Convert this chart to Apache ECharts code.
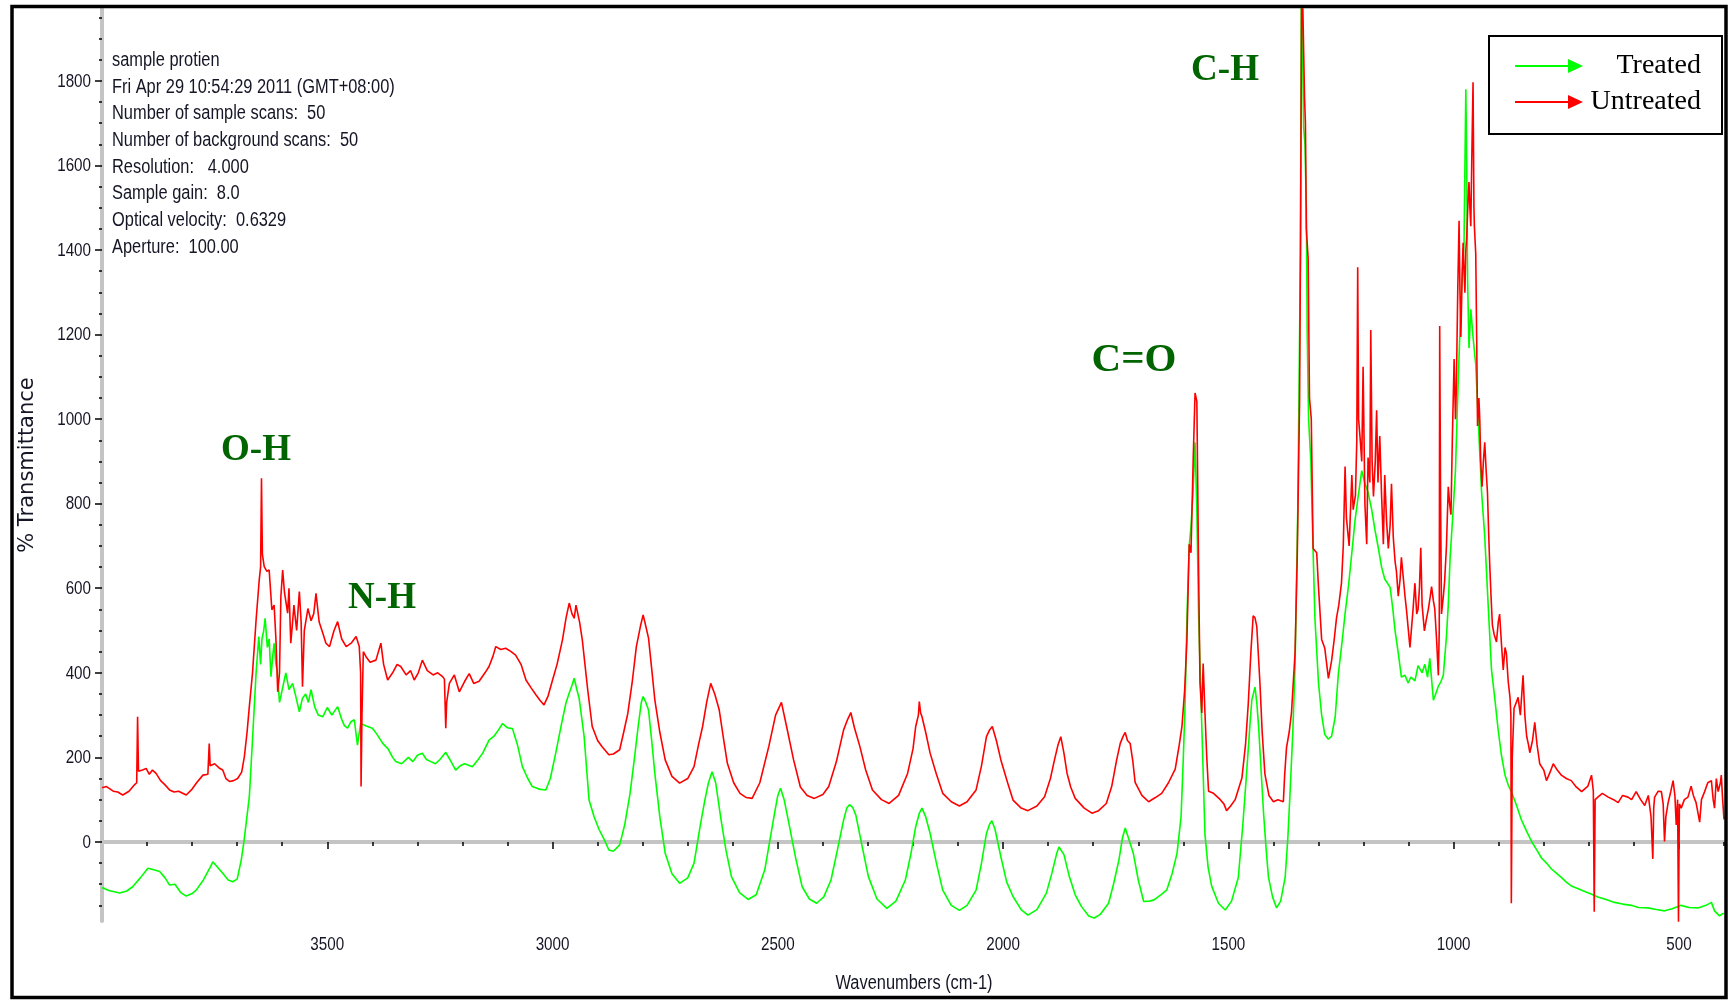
<!DOCTYPE html>
<html>
<head>
<meta charset="utf-8">
<title>FTIR spectrum - treated vs untreated</title>
<script src="https://cdn.jsdelivr.net/npm/echarts@6.0.0/dist/echarts.min.js"></script>
<style>
  html, body { margin: 0; padding: 0; background: #fff; }
  #chart { width: 1735px; height: 1001px; }
</style>
</head>
<body>
<div id="chart"></div>
<script>
// spectrum data, [wavenumber, %T]
var treated = [
  [4000,-108],[3985,-115],[3961,-121],[3945,-116],[3932,-106],[3915,-85],[3898,-62],[3885,-66],[3872,-70],[3860,-85],
  [3850,-102],[3838,-100],[3825,-120],[3813,-128],[3800,-122],[3791,-114],[3775,-90],[3760,-60],[3754,-47],[3745,-58],
  [3732,-74],[3720,-90],[3710,-94],[3700,-88],[3691,-43],[3685,0],[3680,45],[3673,107],[3666,241],[3658,400],
  [3652,486],[3648,420],[3645,480],[3641,500],[3638,529],[3633,460],[3629,480],[3625,391],[3621,440],[3618,470],
  [3614,420],[3611,405],[3606,330],[3603,328],[3598,370],[3592,400],[3585,360],[3577,375],[3570,345],[3562,308],
  [3555,340],[3548,350],[3542,330],[3536,360],[3528,320],[3520,300],[3510,296],[3500,318],[3490,300],[3477,320],
  [3468,290],[3462,275],[3455,269],[3447,285],[3440,289],[3433,229],[3426,280],[3415,275],[3400,269],[3390,255],
  [3377,233],[3365,220],[3355,200],[3348,190],[3335,185],[3320,200],[3310,190],[3300,205],[3289,210],[3280,195],
  [3270,190],[3260,185],[3250,195],[3237,212],[3228,195],[3215,170],[3205,180],[3195,185],[3178,178],[3165,195],
  [3155,210],[3141,241],[3130,250],[3120,265],[3111,280],[3100,270],[3089,268],[3078,230],[3067,178],[3055,150],
  [3045,131],[3030,125],[3015,123],[3005,150],[2993,210],[2980,280],[2970,330],[2963,352],[2957,370],[2952,387],
  [2946,360],[2941,340],[2930,250],[2919,99],[2908,60],[2897,30],[2885,5],[2875,-19],[2865,-22],[2851,-7],
  [2840,40],[2828,115],[2818,200],[2810,273],[2803,330],[2799,344],[2793,330],[2787,312],[2780,240],[2773,162],
  [2762,60],[2750,-27],[2735,-75],[2718,-98],[2700,-85],[2686,-50],[2672,40],[2662,99],[2654,140],[2646,166],
  [2638,140],[2626,52],[2615,-20],[2603,-82],[2585,-120],[2566,-136],[2548,-125],[2529,-66],[2515,20],[2506,76],
  [2500,110],[2494,127],[2486,100],[2474,36],[2460,-40],[2446,-106],[2430,-135],[2414,-145],[2398,-130],[2382,-90],
  [2368,-20],[2354,52],[2347,80],[2341,88],[2334,82],[2327,64],[2313,-10],[2299,-82],[2280,-135],[2258,-157],
  [2238,-140],[2217,-90],[2205,-30],[2194,36],[2186,68],[2180,80],[2172,60],[2162,20],[2148,-50],[2134,-114],
  [2115,-150],[2097,-162],[2080,-150],[2060,-114],[2048,-50],[2037,20],[2030,42],[2025,50],[2018,30],[2005,-35],
  [1992,-95],[1978,-129],[1960,-160],[1945,-173],[1925,-160],[1904,-121],[1892,-75],[1881,-27],[1876,-12],[1872,-9],
  [1865,-30],[1853,-82],[1840,-125],[1826,-153],[1810,-175],[1798,-180],[1785,-172],[1766,-145],[1755,-100],[1743,-43],
  [1735,10],[1729,33],[1722,10],[1711,-27],[1700,-90],[1688,-141],[1675,-140],[1665,-137],[1650,-125],[1637,-114],
  [1625,-75],[1614,-27],[1605,60],[1600,200],[1596,330],[1592,530],[1587,700],[1583,745],[1578,837],[1574,945],
  [1570,786],[1566,530],[1562,380],[1559,274],[1552,18],[1545,-60],[1537,-105],[1522,-145],[1507,-161],[1493,-140],
  [1478,-84],[1468,40],[1459,172],[1452,280],[1448,336],[1441,366],[1437,330],[1433,274],[1428,180],[1422,69],
  [1416,-20],[1411,-84],[1402,-130],[1393,-156],[1384,-140],[1374,-84],[1368,10],[1363,120],[1357,260],[1352,417],
  [1346,786],[1342,1195],[1340,1400],[1338,2100],[1335,2100],[1333,1690],[1330,1650],[1327,1500],[1325,1200],[1322,1000],
  [1317,900],[1311,650],[1308,530],[1300,376],[1293,300],[1286,254],[1278,243],[1271,250],[1263,295],[1256,397],
  [1248,470],[1241,540],[1233,610],[1226,684],[1219,760],[1212,817],[1204,878],[1197,848],[1190,827],[1182,786],
  [1175,740],[1167,694],[1160,650],[1153,622],[1141,602],[1135,550],[1130,499],[1123,447],[1116,390],[1108,394],
  [1101,376],[1095,390],[1086,381],[1079,417],[1070,400],[1064,420],[1058,390],[1053,434],[1045,335],[1040,350],
  [1034,368],[1028,380],[1023,394],[1016,486],[1012,560],[1008,670],[1001,788],[996,879],[990,1089],[983,1299],
  [977,1417],[973,1780],[971,1600],[969,1325],[966,1168],[962,1260],[957,1194],[951,1129],[946,1010],[938,827],
  [931,722],[923,552],[916,407],[909,342],[901,263],[894,205],[886,158],[879,135],[872,119],[860,85],
  [850,53],[838,25],[827,1],[815,-20],[805,-38],[794,-50],[783,-64],[772,-74],[761,-84],[750,-95],
  [739,-104],[725,-110],[709,-117],[695,-123],[680,-130],[660,-137],[643,-143],[625,-147],[606,-150],[590,-155],
  [569,-156],[550,-160],[532,-163],[515,-158],[495,-150],[478,-155],[458,-156],[440,-150],[428,-143],[421,-163],
  [410,-175],[402,-169],[400,-170]
];

var untreated = [
  [4000,128],[3990,131],[3975,120],[3965,118],[3954,111],[3940,120],[3928,135],[3923,140],[3921,296],[3919,167],
  [3910,170],[3902,174],[3895,160],[3888,170],[3880,162],[3870,145],[3860,135],[3850,123],[3840,118],[3830,120],
  [3813,111],[3800,125],[3790,140],[3776,158],[3765,160],[3762,233],[3760,180],[3750,185],[3740,175],[3732,170],
  [3725,150],[3717,143],[3708,145],[3699,150],[3690,165],[3684,202],[3678,260],[3673,320],[3666,399],[3658,525],
  [3651,620],[3648,650],[3646,860],[3644,680],[3640,651],[3634,640],[3629,643],[3623,549],[3618,560],[3614,480],
  [3610,355],[3606,400],[3603,580],[3599,643],[3595,590],[3588,541],[3585,600],[3581,470],[3577,520],[3574,560],
  [3568,500],[3562,592],[3558,520],[3555,367],[3551,500],[3543,552],[3536,523],[3530,540],[3525,588],[3518,520],
  [3510,494],[3503,470],[3495,462],[3485,500],[3477,521],[3468,480],[3458,462],[3447,470],[3436,486],[3429,462],
  [3426,400],[3425,131],[3423,300],[3420,450],[3414,438],[3405,425],[3392,430],[3381,470],[3375,420],[3366,383],
  [3355,400],[3345,420],[3337,415],[3325,395],[3315,405],[3307,383],[3298,400],[3289,430],[3278,405],[3265,395],
  [3255,400],[3244,391],[3240,385],[3237,269],[3235,330],[3229,375],[3218,395],[3207,355],[3195,380],[3185,398],
  [3175,375],[3163,380],[3150,400],[3141,415],[3132,440],[3126,462],[3115,455],[3104,458],[3092,450],[3082,442],
  [3070,420],[3059,383],[3048,365],[3037,348],[3028,335],[3019,324],[3010,345],[3000,383],[2990,420],[2978,478],
  [2970,530],[2963,565],[2957,540],[2952,529],[2948,560],[2945,557],[2940,520],[2934,478],[2922,360],[2912,273],
  [2900,240],[2890,225],[2875,206],[2865,208],[2851,218],[2842,260],[2833,304],[2823,380],[2814,462],[2805,510],
  [2799,537],[2793,510],[2787,482],[2780,410],[2773,336],[2762,260],[2750,194],[2735,155],[2718,139],[2700,150],
  [2686,178],[2676,230],[2667,273],[2658,330],[2649,375],[2640,350],[2630,312],[2620,240],[2612,186],[2598,140],
  [2584,115],[2570,105],[2557,103],[2540,140],[2520,226],[2505,300],[2492,330],[2480,270],[2465,194],[2450,130],
  [2435,110],[2419,103],[2400,112],[2387,131],[2370,190],[2354,265],[2345,290],[2338,306],[2330,270],[2318,226],
  [2305,170],[2290,123],[2270,100],[2253,91],[2232,110],[2212,162],[2200,220],[2194,273],[2188,300],[2186,332],
  [2183,305],[2180,296],[2172,260],[2162,210],[2148,160],[2134,115],[2115,95],[2097,85],[2080,95],[2060,123],
  [2048,180],[2037,249],[2030,265],[2024,273],[2015,240],[2005,194],[1990,140],[1978,99],[1960,80],[1945,74],
  [1925,85],[1908,107],[1895,150],[1886,194],[1878,230],[1872,249],[1865,210],[1858,162],[1850,130],[1840,103],
  [1820,80],[1803,68],[1788,74],[1771,91],[1759,131],[1748,194],[1740,233],[1734,249],[1729,259],[1724,240],
  [1718,233],[1712,190],[1707,141],[1692,110],[1677,95],[1662,105],[1648,115],[1633,140],[1618,172],[1609,230],
  [1603,274],[1597,360],[1592,479],[1587,704],[1583,684],[1578,909],[1574,1062],[1570,1042],[1566,632],[1563,376],
  [1559,305],[1556,422],[1554,420],[1552,305],[1548,200],[1544,120],[1533,115],[1518,100],[1510,90],[1504,74],
  [1495,85],[1485,100],[1470,151],[1462,230],[1456,325],[1450,450],[1445,535],[1441,530],[1437,510],[1430,376],
  [1425,260],[1419,161],[1410,110],[1400,95],[1390,100],[1378,95],[1375,160],[1371,223],[1365,260],[1360,305],
  [1352,448],[1347,684],[1342,1042],[1340,1400],[1337,2100],[1333,2100],[1331,1760],[1329,1700],[1327,1450],[1323,1380],
  [1320,1050],[1316,1000],[1312,694],[1304,684],[1300,602],[1293,479],[1286,458],[1278,387],[1271,428],[1265,480],
  [1260,530],[1255,560],[1249,612],[1245,700],[1241,888],[1238,766],[1232,700],[1226,868],[1223,786],[1218,820],
  [1215,950],[1213,1359],[1211,1000],[1208,960],[1204,900],[1201,1124],[1197,800],[1193,704],[1190,909],[1186,850],
  [1184,1211],[1181,900],[1178,817],[1174,900],[1171,1021],[1168,850],[1164,960],[1160,820],[1156,704],[1153,868],
  [1149,760],[1145,694],[1141,750],[1138,847],[1134,720],[1130,663],[1127,640],[1123,581],[1119,620],[1116,673],
  [1112,670],[1108,581],[1105,552],[1101,550],[1097,460],[1093,458],[1090,552],[1086,612],[1082,539],[1079,550],
  [1076,600],[1073,696],[1070,560],[1065,499],[1060,530],[1056,552],[1052,580],[1049,604],[1045,570],[1042,552],
  [1038,480],[1034,394],[1032,500],[1031,1220],[1029,800],[1027,539],[1023,580],[1020,617],[1016,700],[1012,840],
  [1009,800],[1006,774],[1003,950],[999,1142],[996,1000],[994,1076],[991,1300],[988,1469],[986,1300],[984,1194],
  [981,1350],[979,1417],[977,1350],[975,1299],[973,1400],[971,1430],[968,1520],[966,1561],[964,1500],[962,1456],
  [960,1600],[957,1797],[955,1500],[954,1456],[951,1391],[949,1200],[947,984],[944,1050],[942,997],[940,900],
  [937,840],[934,900],[931,945],[928,880],[925,827],[922,720],[920,657],[917,580],[914,512],[910,490],
  [905,473],[901,520],[898,539],[894,470],[890,407],[886,460],[883,446],[879,380],[875,342],[873,300],
  [872,-145],[870,200],[866,316],[861,330],[857,342],[852,300],[846,394],[842,300],[838,250],[834,230],
  [831,211],[825,240],[820,283],[815,230],[809,185],[800,170],[794,145],[786,165],[779,185],[770,170],
  [761,158],[750,150],[739,145],[728,130],[716,119],[702,132],[694,158],[690,120],[688,-165],[686,100],
  [680,106],[670,115],[657,106],[645,100],[635,93],[625,110],[613,106],[605,100],[595,119],[585,100],
  [576,86],[568,110],[562,60],[558,-40],[556,80],[554,106],[546,120],[539,119],[535,90],[532,1],
  [529,60],[524,93],[518,120],[513,145],[509,110],[506,40],[503,100],[501,-190],[499,90],[495,80],
  [488,100],[480,106],[473,132],[468,110],[462,93],[458,70],[454,47],[450,100],[443,119],[436,140],
  [428,145],[424,100],[421,80],[417,150],[413,119],[408,140],[406,158],[403,100],[400,53]
];

var seriesNames = ["Treated", "Untreated"];
var seriesColors = ["#00ff00", "#ff0000"];

// axis ticks
var xMajorTicks = [3500, 3000, 2500, 2000, 1500, 1000, 500];
var xMinorTicks = [3900, 3800, 3700, 3600, 3400, 3300, 3200, 3100, 2900, 2800, 2700, 2600, 2400, 2300, 2200, 2100,
  1900, 1800, 1700, 1600, 1400, 1300, 1200, 1100, 900, 800, 700, 600, 400];
var yMajorTicks = [0, 200, 400, 600, 800, 1000, 1200, 1400, 1600, 1800];
var yMinorTicks = [-150, -100, -50, 50, 100, 150, 250, 300, 350, 450, 500, 550, 650, 700, 750, 850, 900, 950,
  1050, 1100, 1150, 1250, 1300, 1350, 1450, 1500, 1550, 1650, 1700, 1750, 1850, 1900, 1950];

var infoLines = [
  "sample protien",
  "Fri Apr 29 10:54:29 2011 (GMT+08:00)",
  "Number of sample scans:  50",
  "Number of background scans:  50",
  "Resolution:   4.000",
  "Sample gain:  8.0",
  "Optical velocity:  0.6329",
  "Aperture:  100.00"
];

// no narrow font installed: draw Arial-like text squeezed horizontally
var sansFont = '"Liberation Sans", Arial, sans-serif';
var narrowScale = 0.8;
var textColor = "#151525";
var bondColor = "#006400";
var arrowIcon = "path://M0,6 L53,6 L53,8 L0,8 Z M53,0 L68,7 L53,14 Z";

var myChart = echarts.init(document.getElementById("chart"), null, { renderer: "canvas" });

var axisLineStyle = { color: "#c4c4c4", width: 4 };

var baseGraphics = [
  // outer frame
  {
    type: "rect",
    z: 100,
    shape: { x: 12, y: 6.5, width: 1714, height: 991 },
    style: { fill: "none", stroke: "#000", lineWidth: 3.5 }
  },
  // instrument info
  {
    type: "text",
    x: 112,
    y: 47,
    scaleX: 0.82,
    style: {
      text: infoLines.join("\n"),
      font: "20px " + sansFont,
      lineHeight: 26.7,
      fill: textColor,
      verticalAlign: "top"
    }
  },
  // band labels
  {
    type: "text", x: 256, y: 450,
    style: { text: "O-H", font: 'bold 37px "Liberation Serif", serif', fill: bondColor, align: "center", verticalAlign: "middle" }
  },
  {
    type: "text", x: 382, y: 598,
    style: { text: "N-H", font: 'bold 37px "Liberation Serif", serif', fill: bondColor, align: "center", verticalAlign: "middle" }
  },
  {
    type: "text", x: 1134, y: 360,
    style: { text: "C=O", font: 'bold 41px "Liberation Serif", serif', fill: bondColor, align: "center", verticalAlign: "middle" }
  },
  {
    type: "text", x: 1225, y: 70,
    style: { text: "C-H", font: 'bold 37px "Liberation Serif", serif', fill: bondColor, align: "center", verticalAlign: "middle" }
  },
  // x axis title
  {
    type: "text", x: 914, y: 983,
    scaleX: 0.82,
    style: { text: "Wavenumbers (cm-1)", font: "20px " + sansFont, fill: textColor, align: "center", verticalAlign: "middle" }
  }
];

var option = {
  animation: false,
  backgroundColor: "#fff",
  grid: { left: 102, right: 11, top: 9, bottom: 80 },
  legend: {
    data: seriesNames,
    orient: "vertical",
    left: 1489,
    top: 36,
    padding: [16, 21, 18, 26],
    itemGap: 8,
    itemWidth: 68,
    itemHeight: 14,
    icon: arrowIcon,
    backgroundColor: "#fff",
    borderColor: "#000",
    borderWidth: 2,
    borderRadius: 0,
    formatter: function (name) {
      return "{n|" + name + "}";
    },
    textStyle: {
      fontFamily: '"Liberation Serif", "Times New Roman", serif',
      fontSize: 28,
      rich: {
        n: {
          width: 113,
          align: "right",
          fontFamily: '"Liberation Serif", "Times New Roman", serif',
          fontSize: 28,
          color: "#000"
        }
      }
    }
  },
  xAxis: [
    {
      type: "value",
      min: 400,
      max: 4000,
      inverse: true,
      splitLine: { show: false },
      axisLine: { show: true, lineStyle: axisLineStyle },
      axisTick: { show: true, length: 7, customValues: xMajorTicks, lineStyle: { color: "#000", width: 1.5 } },
      axisLabel: { show: false }
    },
    {
      type: "value",
      min: 400,
      max: 4000,
      inverse: true,
      position: "bottom",
      splitLine: { show: false },
      axisLine: { show: false },
      axisTick: { show: true, length: 4, customValues: xMinorTicks, lineStyle: { color: "#000", width: 1.5 } },
      axisLabel: { show: false }
    }
  ],
  yAxis: [
    {
      type: "value",
      min: -187,
      max: 1970,
      position: "left",
      splitLine: { show: false },
      axisLine: { show: true, lineStyle: axisLineStyle },
      axisTick: { show: true, length: 7, customValues: yMajorTicks, lineStyle: { color: "#000", width: 1.5 } },
      axisLabel: { show: false },
      name: "% Transmittance",
      nameLocation: "middle",
      nameRotate: 90,
      nameGap: 64,
      nameTextStyle: { fontFamily: '"DejaVu Sans", sans-serif', fontSize: 21, color: textColor }
    },
    {
      type: "value",
      min: -187,
      max: 1970,
      position: "left",
      offset: 0,
      splitLine: { show: false },
      axisLine: { show: false },
      axisTick: { show: true, length: 3, customValues: yMinorTicks, lineStyle: { color: "#000", width: 1.5 } },
      axisLabel: { show: false }
    }
  ],
  series: [
    {
      name: seriesNames[0],
      type: "line",
      data: treated,
      xAxisIndex: 0,
      yAxisIndex: 0,
      showSymbol: false,
      clip: true,
      color: seriesColors[0],
      lineStyle: { color: seriesColors[0], width: 1.6 }
    },
    {
      name: seriesNames[1],
      type: "line",
      data: untreated,
      xAxisIndex: 0,
      yAxisIndex: 0,
      showSymbol: false,
      clip: true,
      color: seriesColors[1],
      lineStyle: { color: seriesColors[1], width: 1.6 }
    }
  ],
  graphic: baseGraphics
};

myChart.setOption(option);

// tick labels in a condensed look, placed with the axes' own scales
var tickLabels = [];
yMajorTicks.forEach(function (v) {
  tickLabels.push({
    type: "text",
    x: 91,
    y: myChart.convertToPixel({ yAxisIndex: 0 }, v) + 0.5,
    scaleX: narrowScale,
    style: { text: String(v), font: "19px " + sansFont, fill: textColor, align: "right", verticalAlign: "middle" }
  });
});
xMajorTicks.forEach(function (v) {
  tickLabels.push({
    type: "text",
    x: myChart.convertToPixel({ xAxisIndex: 0 }, v),
    y: 945,
    scaleX: narrowScale,
    style: { text: String(v), font: "19px " + sansFont, fill: textColor, align: "center", verticalAlign: "middle" }
  });
});

myChart.setOption({ graphic: baseGraphics.concat(tickLabels) });

window.addEventListener("resize", function () {
  myChart.resize();
});
</script>
</body>
</html>
